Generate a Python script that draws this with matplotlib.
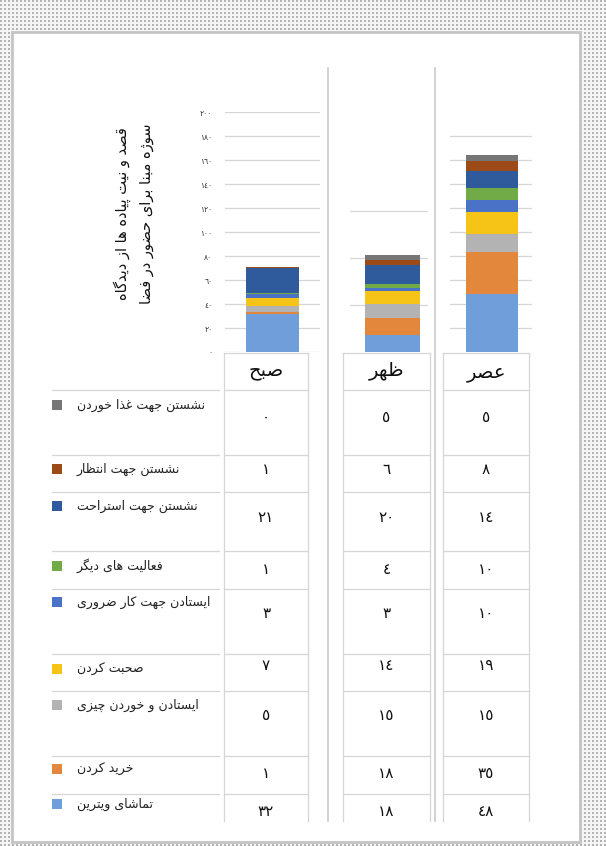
import numpy as np
import matplotlib
matplotlib.use('Agg')
import matplotlib.pyplot as plt
from matplotlib.patches import Rectangle

plt.rcParams['font.family'] = ['DejaVu Sans']

# data (table order, top to bottom)
periods = ['صبح', 'ظهر', 'عصر']
activities = ['نشستن جهت غذا خوردن', 'نشستن جهت انتظار', 'نشستن جهت استراحت',
              'فعالیت های دیگر', 'ایستادن جهت کار ضروری', 'صحبت کردن',
              'ایستادن و خوردن چیزی', 'خرید کردن', 'تماشای ویترین']
eating = [0, 5, 5]
waiting = [1, 6, 8]
resting = [21, 20, 14]
other = [1, 4, 10]
necessary = [3, 3, 10]
talking = [7, 14, 19]
standing_eat = [5, 15, 15]
shopping = [1, 18, 35]
window = [32, 18, 48]
series = [eating, waiting, resting, other, necessary, talking, standing_eat, shopping, window]
colors = ['#767676', '#9c4a17', '#2f5b9d', '#71ab48', '#4a73c8', '#f6c417',
          '#b3b3b3', '#e2873c', '#6f9edb']
title1 = 'قصد و نیت پیاده ها از دیدگاه'
title2 = 'سوژه مبنا برای حضور در فضا'

# simple arabic/persian shaping (matplotlib has no bidi)
FORMS = {
    'ا': ('\uFE8D', '\uFE8E', None, None), 'ب': ('\uFE8F', '\uFE90', '\uFE91', '\uFE92'),
    'پ': ('\uFB56', '\uFB57', '\uFB58', '\uFB59'), 'ت': ('\uFE95', '\uFE96', '\uFE97', '\uFE98'),
    'ج': ('\uFE9D', '\uFE9E', '\uFE9F', '\uFEA0'), 'چ': ('\uFB7A', '\uFB7B', '\uFB7C', '\uFB7D'),
    'ح': ('\uFEA1', '\uFEA2', '\uFEA3', '\uFEA4'), 'خ': ('\uFEA5', '\uFEA6', '\uFEA7', '\uFEA8'),
    'د': ('\uFEA9', '\uFEAA', None, None), 'ذ': ('\uFEAB', '\uFEAC', None, None),
    'ر': ('\uFEAD', '\uFEAE', None, None), 'ز': ('\uFEAF', '\uFEB0', None, None),
    'ژ': ('\uFB8A', '\uFB8B', None, None), 'س': ('\uFEB1', '\uFEB2', '\uFEB3', '\uFEB4'),
    'ش': ('\uFEB5', '\uFEB6', '\uFEB7', '\uFEB8'), 'ص': ('\uFEB9', '\uFEBA', '\uFEBB', '\uFEBC'),
    'ض': ('\uFEBD', '\uFEBE', '\uFEBF', '\uFEC0'), 'ط': ('\uFEC1', '\uFEC2', '\uFEC3', '\uFEC4'),
    'ظ': ('\uFEC5', '\uFEC6', '\uFEC7', '\uFEC8'), 'ع': ('\uFEC9', '\uFECA', '\uFECB', '\uFECC'),
    'غ': ('\uFECD', '\uFECE', '\uFECF', '\uFED0'), 'ف': ('\uFED1', '\uFED2', '\uFED3', '\uFED4'),
    'ق': ('\uFED5', '\uFED6', '\uFED7', '\uFED8'), 'ک': ('\uFB8E', '\uFB8F', '\uFB90', '\uFB91'),
    'گ': ('\uFB92', '\uFB93', '\uFB94', '\uFB95'), 'ل': ('\uFEDD', '\uFEDE', '\uFEDF', '\uFEE0'),
    'م': ('\uFEE1', '\uFEE2', '\uFEE3', '\uFEE4'), 'ن': ('\uFEE5', '\uFEE6', '\uFEE7', '\uFEE8'),
    'ه': ('\uFEE9', '\uFEEA', '\uFEEB', '\uFEEC'), 'و': ('\uFEED', '\uFEEE', None, None),
    'ی': ('\uFBFC', '\uFBFD', '\uFBFE', '\uFBFF'),
}


def fa(text):
    out = []
    for i, ch in enumerate(text):
        if ch not in FORMS:
            out.append(ch)
            continue
        prev = text[i - 1] if i > 0 else ''
        nxt = text[i + 1] if i < len(text) - 1 else ''
        f = FORMS[ch]
        jp = prev in FORMS and FORMS[prev][2] is not None
        jn = f[2] is not None and nxt in FORMS
        if jp and jn:
            out.append(f[3])
        elif jp:
            out.append(f[1])
        elif jn:
            out.append(f[2])
        else:
            out.append(f[0])
    return ''.join(reversed(out))


DIG = str.maketrans('0123456789', '٠١٢٣٤٥٦٧٨٩')


def num(v):
    return str(v).translate(DIG)


W, H = 606, 846
fig = plt.figure(figsize=(W / 100, H / 100), dpi=100)

# background with dotted border and white page
bg = fig.add_axes([0, 0, 1, 1])
yy, xx = np.mgrid[0:H, 0:W]
pattern = np.where((yy % 4 < 2) & (xx % 4 < 2), 0.7, 0.96)
bg.imshow(pattern, cmap='gray', vmin=0, vmax=1, extent=(0, W, H, 0), interpolation='nearest')
bg.add_patch(Rectangle((12, 32), 568, 810, facecolor='white', edgecolor='#c4c4c4', lw=2))
bg.set_xlim(0, W)
bg.set_ylim(H, 0)
bg.axis('off')


def px_axes(x0, y0, x1, y1):
    return fig.add_axes([x0 / W, 1 - y1 / H, (x1 - x0) / W, (y1 - y0) / H])


grid_c = '#d6d6d6'
# column separators
for x in [328, 435]:
    bg.plot([x, x], [68, 821], color='#cfcfcf', lw=1.3)

# bar panels: (axes x-range, ylim top, ticks, bar center, bar width)
panels = [((225, 320), 200, list(range(0, 201, 20)), 0.0, 0.56),
          ((350, 428), 255, [50, 100, 150], 0.045, 0.70),
          ((450, 532), 200, list(range(20, 181, 20)), 0.01, 0.63)]
for i, (xr, top, ticks, cx, bw) in enumerate(panels):
    ax = px_axes(xr[0], 112, xr[1], 352)
    ax.set_facecolor('none')
    bottom = 0
    for s, c in zip(series[::-1], colors[::-1]):
        ax.bar(cx, s[i], width=bw, bottom=bottom, color=c, zorder=2)
        bottom += s[i]
    ax.set_xlim(-0.5, 0.5)
    ax.set_ylim(0, top)
    ax.set_yticks(ticks)
    ax.yaxis.grid(True, color=grid_c, lw=0.9)
    ax.set_axisbelow(True)
    ax.set_xticks([])
    ax.tick_params(axis='y', length=0, pad=9, labelsize=5.5, labelcolor='#333333')
    if i == 0:
        ax.set_yticklabels([num(t) for t in ticks])
    else:
        ax.set_yticklabels([])
    for sp in ax.spines.values():
        sp.set_visible(False)

# title (vertical)
bg.text(122, 214, fa(title1), rotation=90, ha='center', va='center', fontsize=10.5, color='#111111')
bg.text(147, 214, fa(title2), rotation=90, ha='center', va='center', fontsize=10.5, color='#111111')

# table
rows = [353, 390, 455, 492, 551, 589, 654, 691, 756, 794]
table_bottom = 821
cols = [(224, 308), (343, 430), (443, 529)]
head_y = [370, 371, 372]
value_y = [417, 469, 517, 569, 613, 666, 715, 774, 812]
legend_y = [405, 469, 506, 566, 602, 669, 705, 769, 804]

for j, (x0, x1) in enumerate(cols):
    bg.plot([x0, x0], [rows[0], table_bottom], color=grid_c, lw=0.9)
    bg.plot([x1, x1], [rows[0], table_bottom], color=grid_c, lw=0.9)
    for r in rows:
        bg.plot([x0, x1], [r, r], color=grid_c, lw=0.9)
    xc = (x0 + x1) / 2
    bg.text(xc, head_y[j], fa(periods[j]), ha='center', va='center', fontsize=14, color='#111111')
    for k, s in enumerate(series):
        bg.text(xc, value_y[k], num(s[j]), ha='center', va='center', fontsize=11, color='#111111')

for r in rows[1:]:
    bg.plot([52, 219], [r, r], color=grid_c, lw=0.9)

for k, name in enumerate(activities):
    bg.add_patch(Rectangle((52, legend_y[k] - 5), 10, 10, facecolor=colors[k], edgecolor='none'))
    bg.text(77, legend_y[k], fa(name), ha='left', va='center', fontsize=9, color='#222222')

fig.savefig('out.png', dpi=100)
